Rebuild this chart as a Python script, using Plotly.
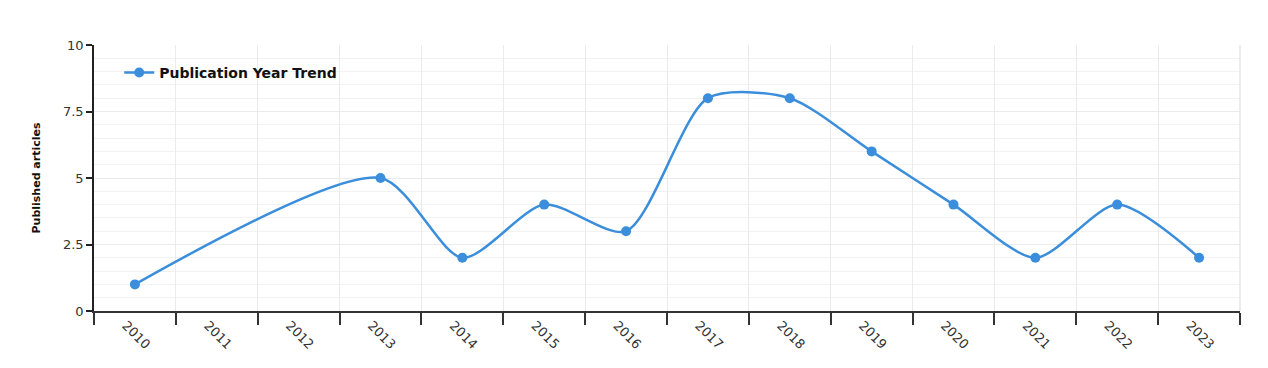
import plotly.graph_objects as go

years = ["2010", "2011", "2012", "2013", "2014", "2015", "2016",
         "2017", "2018", "2019", "2020", "2021", "2022", "2023"]
articles = [1, None, None, 5, 2, 4, 3, 8, 8, 6, 4, 2, 4, 2]

color = "#3a8edb"
font_family = "DejaVu Sans, Verdana, sans-serif"

fig = go.Figure()
fig.add_trace(go.Scatter(
    x=years, y=articles, mode="lines+markers", name="Publication Year Trend",
    connectgaps=True,
    line=dict(color=color, width=2.5, shape="spline", smoothing=0.75),
    marker=dict(color=color, size=10),
))

fig.update_layout(
    width=1268, height=368,
    margin=dict(l=94, r=28, t=45, b=57),
    paper_bgcolor="white", plot_bgcolor="white",
    font=dict(family=font_family, size=12, color="#222"),
    showlegend=True,
    legend=dict(x=0.022, y=0.955, xanchor="left", yanchor="top",
                bgcolor="rgba(0,0,0,0)",
                font=dict(size=14, family=font_family, color="#111", weight="bold")),
    xaxis=dict(
        type="category", range=[-0.5, 13.5], tickson="boundaries",
        showgrid=True, gridcolor="#ebebeb", gridwidth=1,
        showline=True, linecolor="#333", linewidth=1.5,
        ticks="outside", ticklen=12, tickcolor="#333", tickwidth=1.5,
        tickangle=45, tickfont=dict(size=13, color="#333"),
        ticklabelshift=-9,
        zeroline=False,
    ),
    yaxis=dict(
        range=[0, 10], tickvals=[0, 2.5, 5, 7.5, 10],
        ticktext=["0", "2.5", "5", "7.5", "10"],
        showgrid=True, gridcolor="#ebebeb", gridwidth=1,
        minor=dict(dtick=0.5, showgrid=True, gridcolor="#f2f2f2", gridwidth=1),
        showline=True, linecolor="#222", linewidth=1.5,
        ticks="outside", ticklen=6, tickcolor="#222", tickwidth=1.5,
        tickfont=dict(size=13, color="#333"),
        zeroline=False,
        title=dict(text="Published articles", standoff=20,
                   font=dict(size=11, family=font_family, color="#111", weight="bold")),
    ),
    shapes=[
        dict(type="line", xref="paper", yref="paper", x0=1, x1=1, y0=0, y1=1,
             line=dict(color="#e6e6e6", width=1.5)),
    ],
)

fig.write_html("out.html")
